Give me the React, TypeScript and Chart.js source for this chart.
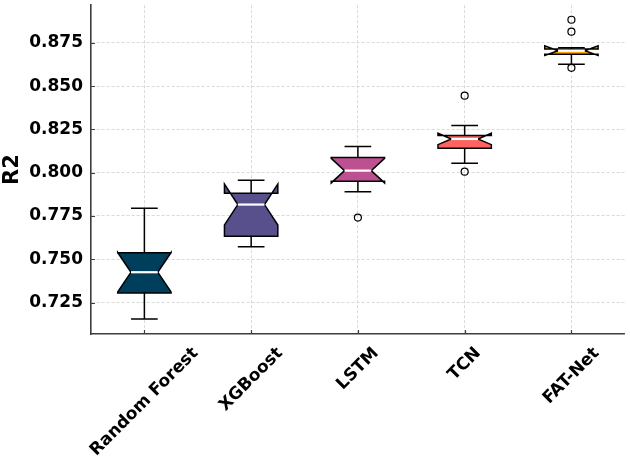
import React, { useEffect, useRef } from 'react';
import { Chart, registerables } from 'chart.js';

Chart.register(...registerables);

// Models compared on R2
const models = ['Random Forest', 'XGBoost', 'LSTM', 'TCN', 'FAT-Net'];

// Box statistics per model
const whiskerLow = [0.7154, 0.7572, 0.789, 0.8054, 0.8627];
const q1 = [0.7305, 0.7633, 0.795, 0.8142, 0.8685];
const median = [0.7425, 0.7816, 0.8012, 0.8195, 0.8705];
const q3 = [0.7537, 0.7882, 0.8088, 0.8215, 0.8715];
const whiskerHigh = [0.7795, 0.7957, 0.8151, 0.8273, 0.8722];
const notchLow = [0.7311, 0.7698, 0.7941, 0.8162, 0.8678];
const notchHigh = [0.7539, 0.7934, 0.8083, 0.8228, 0.8733];

// Fliers
const outlierModel = ['LSTM', 'TCN', 'TCN', 'FAT-Net', 'FAT-Net', 'FAT-Net'];
const outlierValue = [0.7741, 0.8445, 0.8006, 0.8884, 0.8815, 0.8606];

const boxColors = ['#003f5c', '#58508d', '#bc5090', '#ff6361', '#ffa600'];

const yTicks = [0.725, 0.75, 0.775, 0.8, 0.825, 0.85, 0.875];
const yMin = 0.7068;
const yMax = 0.8968;

const TICK_FONT = 'bold 17px "DejaVu Sans"';
const SPINE = '#3d3d3d';
const GRID = '#cfcfcf';

const notchedBoxPlugin = {
  id: 'notchedBoxes',
  beforeDatasetsDraw(chart: any) {
    const { ctx, chartArea } = chart;
    const x = chart.scales.x;
    const y = chart.scales.y;
    const step = x.getPixelForValue(1) - x.getPixelForValue(0);
    const half = step * 0.25;
    const capHalf = half * 0.5;
    const Y = (v: number) => y.getPixelForValue(v);

    ctx.save();
    // inward tick marks
    ctx.strokeStyle = SPINE;
    ctx.lineWidth = 1.2;
    ctx.beginPath();
    yTicks.forEach((v) => {
      const py = Math.round(Y(v)) + 0.5;
      ctx.moveTo(chartArea.left, py);
      ctx.lineTo(chartArea.left + 4, py);
    });
    models.forEach((_, i) => {
      const px = Math.round(x.getPixelForValue(i)) + 0.5;
      ctx.moveTo(px, chartArea.bottom);
      ctx.lineTo(px, chartArea.bottom - 4);
    });
    ctx.stroke();

    models.forEach((_, i) => {
      const cx = x.getPixelForValue(i);
      const L = cx - half;
      const R = cx + half;
      const cl = cx - capHalf;
      const cr = cx + capHalf;

      // notched box
      ctx.beginPath();
      ctx.moveTo(L, Y(q1[i]));
      ctx.lineTo(L, Y(notchLow[i]));
      ctx.lineTo(cl, Y(median[i]));
      ctx.lineTo(L, Y(notchHigh[i]));
      ctx.lineTo(L, Y(q3[i]));
      ctx.lineTo(R, Y(q3[i]));
      ctx.lineTo(R, Y(notchHigh[i]));
      ctx.lineTo(cr, Y(median[i]));
      ctx.lineTo(R, Y(notchLow[i]));
      ctx.lineTo(R, Y(q1[i]));
      ctx.closePath();
      ctx.fillStyle = boxColors[i];
      ctx.fill();
      ctx.strokeStyle = '#000';
      ctx.lineWidth = 1.5;
      ctx.lineJoin = 'miter';
      ctx.stroke();

      // whiskers and caps
      ctx.beginPath();
      ctx.moveTo(cx, Y(q1[i]));
      ctx.lineTo(cx, Y(whiskerLow[i]));
      ctx.moveTo(cx, Y(q3[i]));
      ctx.lineTo(cx, Y(whiskerHigh[i]));
      ctx.moveTo(cl, Y(whiskerLow[i]));
      ctx.lineTo(cr, Y(whiskerLow[i]));
      ctx.moveTo(cl, Y(whiskerHigh[i]));
      ctx.lineTo(cr, Y(whiskerHigh[i]));
      ctx.stroke();

      // median
      ctx.beginPath();
      ctx.moveTo(cl, Y(median[i]));
      ctx.lineTo(cr, Y(median[i]));
      ctx.strokeStyle = '#ffffff';
      ctx.lineWidth = 2.2;
      ctx.stroke();
    });
    ctx.restore();
  },
  afterDraw(chart: any) {
    const { ctx, chartArea } = chart;
    const x = chart.scales.x;
    ctx.save();
    ctx.font = TICK_FONT;
    ctx.fillStyle = '#000';
    ctx.textAlign = 'center';
    ctx.textBaseline = 'middle';
    models.forEach((m, i) => {
      const w = ctx.measureText(m).width;
      const h = 17 * 1.1;
      const bb = (w + h) * Math.SQRT1_2;
      const cx = x.getPixelForValue(i);
      const cy = chartArea.bottom + 10 + bb / 2;
      ctx.save();
      ctx.translate(cx, cy);
      ctx.rotate(-Math.PI / 4);
      ctx.fillText(m, 0, 0);
      ctx.restore();
    });
    ctx.restore();
  },
};

export default function App() {
  const canvasRef = useRef<HTMLCanvasElement | null>(null);

  useEffect(() => {
    const canvas = canvasRef.current;
    if (!canvas) return;
    const chart = new Chart(canvas, {
      type: 'line',
      data: {
        labels: models,
        datasets: [
          {
            label: 'fliers',
            data: outlierModel.map((m, i) => ({ x: m, y: outlierValue[i] })),
            showLine: false,
            pointStyle: 'circle',
            pointRadius: 3.5,
            pointBorderWidth: 1.2,
            pointBorderColor: '#000',
            pointBackgroundColor: 'rgba(0,0,0,0)',
          },
        ],
      },
      options: {
        responsive: false,
        animation: false,
        devicePixelRatio: 1,
        layout: { padding: { top: 3, right: 4, left: 0, bottom: 0 } },
        plugins: {
          legend: { display: false },
          tooltip: { enabled: false },
        },
        scales: {
          x: {
            type: 'category',
            offset: true,
            grid: {
              offset: false,
              color: (c: any) => (c.type === 'tick' && c.index < models.length ? GRID : 'rgba(0,0,0,0)'),
              lineWidth: 0.8,
              drawTicks: false,
            },
            border: { display: true, color: SPINE, width: 1.6, dash: [3, 2] },
            ticks: { display: false },
            afterFit: (scale: any) => {
              scale.height = 129;
              scale.paddingLeft = 0;
              scale.paddingRight = 0;
            },
          },
          y: {
            type: 'linear',
            min: yMin,
            max: yMax,
            afterBuildTicks: (scale: any) => {
              scale.ticks = yTicks.map((v) => ({ value: v }));
            },
            grid: {
              color: GRID,
              lineWidth: 0.8,
              drawTicks: false,
            },
            border: { display: true, color: SPINE, width: 1.6, dash: [3, 2] },
            ticks: {
              padding: 8,
              color: '#000',
              font: { family: 'DejaVu Sans', size: 17, weight: 'bold' },
              callback: (v: any) => Number(v).toFixed(3),
            },
            title: {
              display: true,
              text: 'R2',
              color: '#000',
              font: { family: 'DejaVu Sans', size: 21, weight: 'bold' },
              padding: { top: 0, bottom: 0 },
            },
            afterFit: (scale: any) => {
              scale.width = 91;
              scale.paddingTop = 0;
              scale.paddingBottom = 0;
            },
          },
        },
      },
      plugins: [notchedBoxPlugin],
    });
    return () => chart.destroy();
  }, []);

  return (
    <div style={{ position: 'fixed', left: 0, top: 0, width: 630, height: 463, background: '#fff' }}>
      <canvas ref={canvasRef} width={630} height={463} />
    </div>
  );
}
